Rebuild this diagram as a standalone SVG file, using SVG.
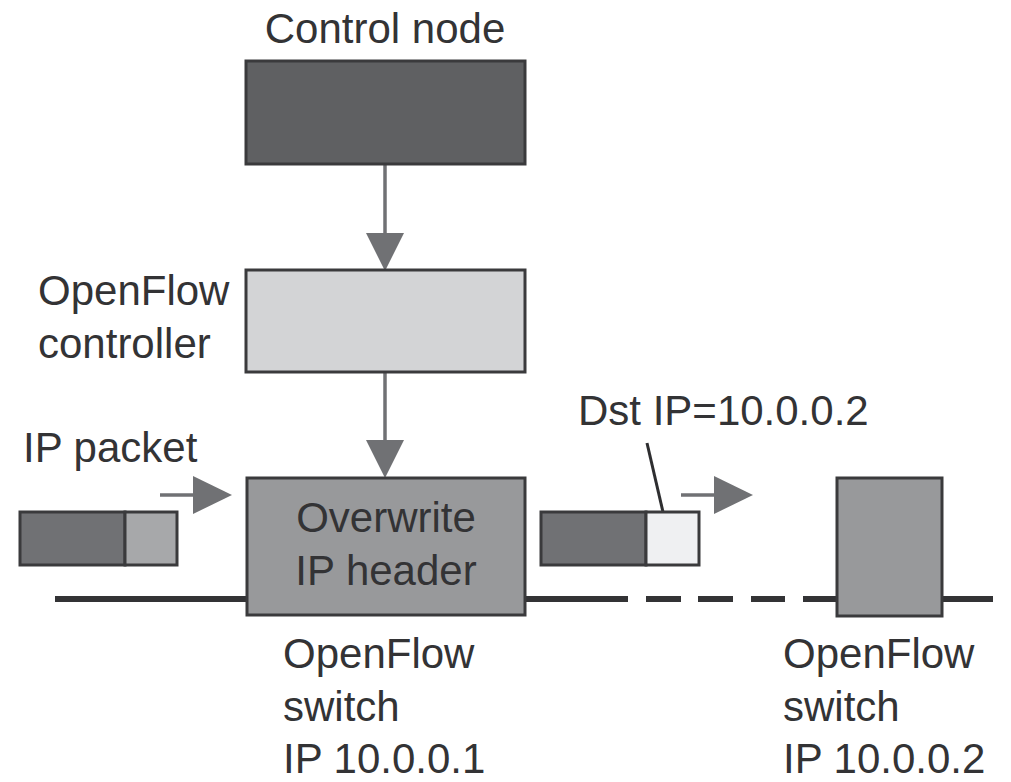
<svg xmlns="http://www.w3.org/2000/svg" width="1011" height="782" viewBox="0 0 1011 782">
  <style>
    .lbl { font-family: "Liberation Sans", Arial, Helvetica, sans-serif; font-size: 42px; fill: #333335; }
    .box { stroke: #3a3a3c; stroke-width: 3; }
    .wire { stroke: #333335; stroke-width: 6; fill: none; }
    .flow { stroke: #707174; stroke-width: 3.5; fill: none; }
    .head { fill: #707174; }
  </style>
  <rect width="1011" height="782" fill="#ffffff"/>

  <!-- network link between the switches -->
  <g id="link">
    <line class="wire" x1="55" y1="599" x2="248" y2="599"/>
    <line class="wire" x1="525" y1="599" x2="628" y2="599"/>
    <line class="wire" x1="646" y1="599" x2="681" y2="599"/>
    <line class="wire" x1="698" y1="599" x2="733" y2="599"/>
    <line class="wire" x1="751" y1="599" x2="785" y2="599"/>
    <line class="wire" x1="803" y1="599" x2="838" y2="599"/>
    <line class="wire" x1="942" y1="599" x2="993" y2="599"/>
  </g>

  <!-- connectors -->
  <g id="connectors">
    <line class="flow" x1="385" y1="164" x2="385" y2="236"/>
    <polygon class="head" points="366,233 404,233 385,271"/>
    <line class="flow" x1="385" y1="372" x2="385" y2="443"/>
    <polygon class="head" points="366,440 404,440 385,478"/>
    <line class="flow" x1="160" y1="495" x2="196" y2="495"/>
    <polygon class="head" points="193,476 232,495 193,514"/>
    <line class="flow" x1="681" y1="495" x2="717" y2="495"/>
    <polygon class="head" points="714,476 753,495 714,514"/>
    <line stroke="#2e2e30" stroke-width="3" x1="647" y1="443" x2="663" y2="512"/>
  </g>

  <g id="control-node">
    <rect class="box" x="246" y="61" width="279" height="103" fill="#5f6062"/>
    <text class="lbl" x="385" y="43" text-anchor="middle">Control node</text>
  </g>

  <g id="openflow-controller">
    <rect class="box" x="246" y="270" width="279" height="102" fill="#d3d4d6"/>
    <text class="lbl" x="38" y="305">OpenFlow</text>
    <text class="lbl" x="38" y="358">controller</text>
  </g>

  <g id="switch-1">
    <rect class="box" x="247" y="478" width="278" height="137" fill="#98999b"/>
    <text class="lbl" x="386" y="532" text-anchor="middle">Overwrite</text>
    <text class="lbl" x="386" y="585" text-anchor="middle">IP header</text>
    <text class="lbl" x="283" y="668">OpenFlow</text>
    <text class="lbl" x="283" y="721">switch</text>
    <text class="lbl" x="283" y="773">IP 10.0.0.1</text>
  </g>

  <g id="switch-2">
    <rect class="box" x="837" y="478" width="105" height="138" fill="#98999b"/>
    <text class="lbl" x="783" y="668">OpenFlow</text>
    <text class="lbl" x="783" y="721">switch</text>
    <text class="lbl" x="783" y="773">IP 10.0.0.2</text>
  </g>

  <g id="packet-in">
    <rect class="box" x="20" y="512" width="105" height="53" fill="#707174"/>
    <rect class="box" x="125" y="512" width="52" height="53" fill="#a7a8aa"/>
    <text class="lbl" x="23" y="462">IP packet</text>
  </g>

  <g id="packet-out">
    <rect class="box" x="541" y="512" width="105" height="53" fill="#707174"/>
    <rect class="box" x="646" y="512" width="53" height="53" fill="#eff0f2"/>
    <text class="lbl" x="578" y="425">Dst IP=10.0.0.2</text>
  </g>
</svg>
